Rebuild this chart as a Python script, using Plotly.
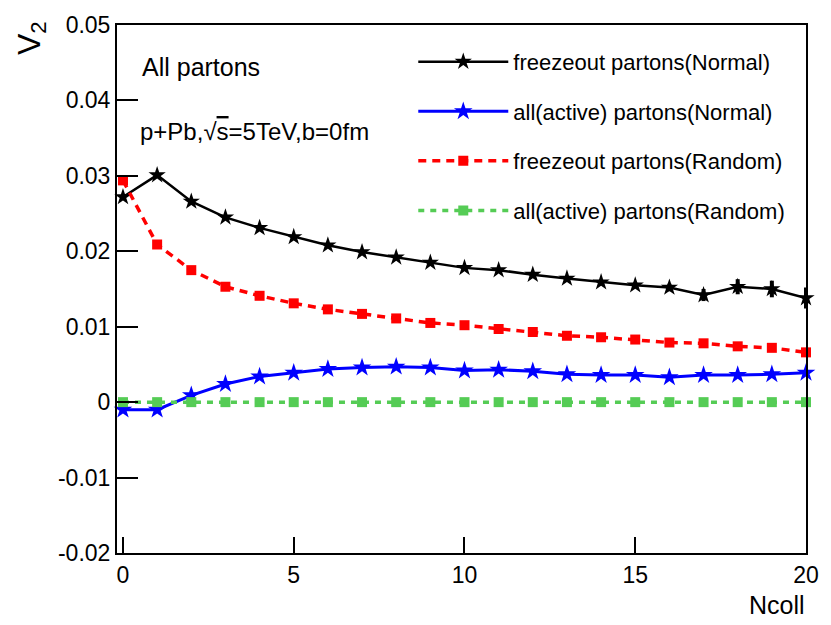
import plotly.graph_objects as go

ncoll = list(range(21))

freeze_normal = [0.0272, 0.0301, 0.0266, 0.0245, 0.0231, 0.0219, 0.0208, 0.0199, 0.0192, 0.0185,
                 0.0178, 0.0175, 0.0169, 0.0164, 0.0159, 0.0155, 0.0152, 0.0142, 0.0153, 0.0150, 0.0138]
freeze_normal_err = [0.0003, 0.0003, 0.0003, 0.0003, 0.0003, 0.0003, 0.0003, 0.0003, 0.0003, 0.0003,
                     0.0003, 0.0003, 0.0003, 0.0003, 0.0004, 0.0004, 0.0005, 0.0008, 0.0010, 0.0011, 0.0014]
active_normal = [-0.0010, -0.0010, 0.0009, 0.0024, 0.0034, 0.0039, 0.0044, 0.0046, 0.0047, 0.0046,
                 0.0042, 0.0043, 0.0041, 0.0037, 0.0036, 0.0036, 0.0033, 0.0036, 0.0036, 0.0037, 0.0039]
freeze_random = [0.0294, 0.0209, 0.0175, 0.0153, 0.0141, 0.0131, 0.0123, 0.0117, 0.0111, 0.0105,
                 0.0102, 0.0097, 0.0093, 0.0088, 0.0086, 0.0083, 0.0079, 0.0078, 0.0074, 0.0072, 0.0066]
active_random = [0.0000] * 21

y_tickvals = [-0.02, -0.01, 0, 0.01, 0.02, 0.03, 0.04, 0.05]
y_ticktext = ["-0.02", "-0.01", "0", "0.01", "0.02", "0.03", "0.04", "0.05"]
x_tickvals = [0, 5, 10, 15, 20]
x_ticktext = ["0", "5", "10", "15", "20"]

FONT = "Liberation Sans, Arial, sans-serif"

fig = go.Figure()

fig.add_trace(go.Scatter(
    x=ncoll, y=freeze_normal, name="freezeout partons(Normal)", mode="lines+markers",
    line=dict(color="black", width=2.5),
    marker=dict(symbol="star", size=13, color="black"),
    error_y=dict(type="data", array=freeze_normal_err, color="black", thickness=4, width=0),
    cliponaxis=False, legendgroup="a"))
fig.add_trace(go.Scatter(
    x=ncoll, y=active_normal, name="all(active) partons(Normal)", mode="lines+markers",
    line=dict(color="#0000ff", width=3),
    marker=dict(symbol="star", size=14, color="#0000ff"),
    cliponaxis=False, legendgroup="b"))
fig.add_trace(go.Scatter(
    x=ncoll, y=freeze_random, name="freezeout partons(Random)", mode="lines+markers",
    line=dict(color="#ff0000", width=3.5, dash="8px,6px"),
    marker=dict(symbol="square", size=10, color="#ff0000"),
    cliponaxis=False, legendgroup="c"))
fig.add_trace(go.Scatter(
    x=ncoll, y=active_random, name="all(active) partons(Random)", mode="lines+markers",
    line=dict(color="#55cc55", width=3.5, dash="6px,6px"),
    marker=dict(symbol="square", size=10, color="#55cc55"),
    cliponaxis=False, legendgroup="d"))

fig.update_layout(
    width=831, height=625,
    margin=dict(l=117, r=24, t=23, b=72),
    paper_bgcolor="white", plot_bgcolor="white",
    font=dict(family=FONT, color="black", size=22),
    showlegend=True,
    legend=dict(x=0.43, y=0.97, xanchor="left", yanchor="top",
                bgcolor="rgba(0,0,0,0)", font=dict(size=22, family=FONT),
                itemwidth=90, tracegroupgap=18),
    xaxis=dict(range=[-0.175, 20.0], tickvals=x_tickvals, ticktext=x_ticktext,
               ticks="inside", ticklen=16, tickwidth=1.5, tickcolor="black",
               showline=True, linecolor="black", linewidth=2, mirror=True,
               showgrid=False, zeroline=False, tickfont=dict(size=23)),
    yaxis=dict(range=[-0.02, 0.05], tickvals=y_tickvals, ticktext=y_ticktext,
               ticks="inside", ticklen=21, tickwidth=1.5, tickcolor="black",
               showline=True, linecolor="black", linewidth=2, mirror=True,
               showgrid=False, zeroline=False, tickfont=dict(size=23)),
    annotations=[
        dict(text="All partons", x=0.033, y=0.921, xref="paper", yref="paper",
             xanchor="left", yanchor="middle", showarrow=False, font=dict(size=25)),
        dict(text="p+Pb,√<span style='text-decoration:overline'>s</span>=5TeV,b=0fm",
             x=0.030, y=0.798, xref="paper", yref="paper",
             xanchor="left", yanchor="middle", showarrow=False, font=dict(size=24)),
        dict(text="Ncoll", x=1.0015, y=-0.098, xref="paper", yref="paper",
             xanchor="right", yanchor="middle", showarrow=False, font=dict(size=25)),
        dict(text="V<sub>2</sub>", x=-0.125, y=0.975, xref="paper", yref="paper",
             xanchor="center", yanchor="middle", textangle=-90, showarrow=False,
             font=dict(size=32)),
    ],
)

fig.write_html("out.html")
